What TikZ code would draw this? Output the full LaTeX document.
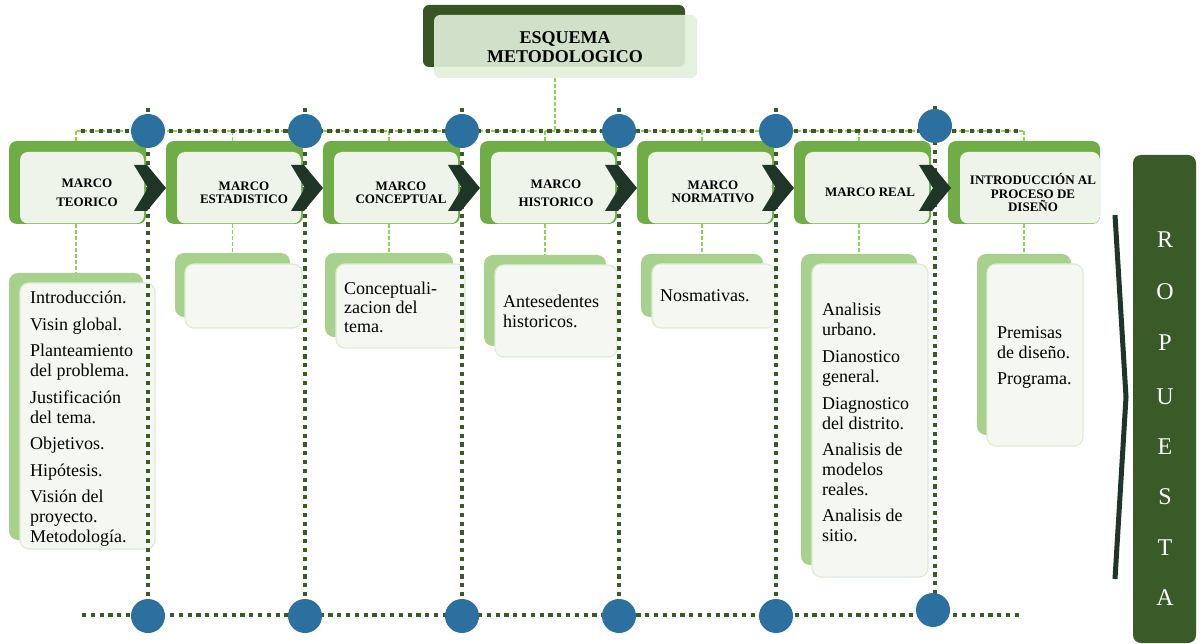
\documentclass[tikz,border=0pt]{standalone}
\usepackage{fontspec}
\setmainfont{Liberation Serif}
\definecolor{dkgreen}{HTML}{375623}
\definecolor{propgreen}{HTML}{3A5A27}
\definecolor{midgreen}{HTML}{70AD47}
\definecolor{hdrfill}{HTML}{EEF4EA}
\definecolor{lgreen}{HTML}{A9D18E}
\definecolor{frontfill}{HTML}{F5F8F2}
\definecolor{frontdraw}{HTML}{DCEDD2}
\definecolor{dashgreen}{HTML}{92D050}
\definecolor{chev}{HTML}{1F3527}
\definecolor{dotblue}{HTML}{2C70A0}
\definecolor{titlefront}{HTML}{E2EFDA}
\definecolor{dotgreen}{HTML}{3B5A27}
\tikzset{
  hout/.style={fill=midgreen, rounded corners=8pt, minimum width=137pt, minimum height=83pt, inner sep=0pt},
  hin/.style={fill=hdrfill, rounded corners=8pt, minimum width=124pt, minimum height=71.5pt, inner sep=0pt},
  htext/.style={align=center, inner sep=0pt, font=\bfseries\fontsize{13}{13}\selectfont},
  cback/.style={fill=lgreen, rounded corners=9pt, inner sep=0pt},
  cfront/.style={fill=frontfill, draw=frontdraw, line width=1.2pt, rounded corners=9pt, inner sep=0pt},
  ctext/.style={align=left, anchor=north west, inner sep=0pt, font=\fontsize{18}{20}\selectfont},
  lgdash/.style={draw=dashgreen, line width=1.3pt, dash pattern=on 4pt off 2pt},
  dotline/.style={draw=dotgreen, line width=4.2pt, dash pattern=on 4.2pt off 4.6pt},
  bluedot/.style={circle, fill=dotblue, minimum size=34pt, inner sep=0pt},
  chevron/.style={fill=chev},
}
\begin{document}
\begin{tikzpicture}[x=1pt,y=-1pt]
\useasboundingbox (0,0) rectangle (1200,644);
% title
\node[fill=dkgreen, rounded corners=6pt, minimum width=262pt, minimum height=62pt, inner sep=0pt] (tback) at (554,36) {};
\node[fill=titlefront, fill opacity=0.9, rounded corners=6pt, minimum width=263pt, minimum height=63pt, inner sep=0pt] (title) at (565.5,46.5) {};
\node[align=center, inner sep=0pt, font=\bfseries\fontsize{18}{19.5}\selectfont] (ttext) at (565,47) {ESQUEMA\\METODOLOGICO};
% bus coordinates
\coordinate (busL) at (77,131);
\coordinate (busR) at (1024,131);
\coordinate (dotL) at (81,131);
\coordinate (dotR) at (1019,131);
\coordinate (botL) at (82,615);
\coordinate (botR) at (1020,615);
% headers
\foreach \i in {0,...,5} {
  \pgfmathsetmacro\cx{77.5+157*\i}
  \pgfmathsetmacro\ix{82+157*\i}
  \node[hout] (ho\i) at (\cx,182.5) {};
  \node[hin] (hi\i) at (\ix,187.75) {};
}
\node[hout, minimum width=152pt] (ho6) at (1024,182.5) {};
\node[hin, minimum width=140pt] (hi6) at (1030,187.75) {};
\node[htext, font=\bfseries\fontsize{13}{19}\selectfont] (ht0) at (87,192.5) {MARCO\\TEORICO};
\node[htext] (ht1) at (244,192.5) {MARCO\\ESTADISTICO};
\node[htext] (ht2) at (401,192.5) {MARCO\\CONCEPTUAL};
\node[htext, font=\bfseries\fontsize{13}{18}\selectfont] (ht3) at (556,193) {MARCO\\HISTORICO};
\node[htext, font=\bfseries\fontsize{13}{12.5}\selectfont] (ht4) at (713,192) {MARCO\\NORMATIVO};
\node[htext] (ht5) at (870,192.5) {MARCO REAL};
\node[htext, font=\bfseries\fontsize{13}{13.5}\selectfont] (ht6) at (1033,192.5) {INTRODUCCIÓN AL\\PROCESO DE\\DISEÑO};
% content boxes
\node[cback, minimum width=134pt, minimum height=267pt] (cb0) at (76,406.5) {};
\node[cfront, minimum width=135pt, minimum height=266pt] (cf0) at (87.5,416) {};
\node[cback, minimum width=115pt, minimum height=64pt] (cb1) at (232.5,285) {};
\node[cfront, minimum width=117pt, minimum height=64pt] (cf1) at (243.5,296) {};
\node[cback, minimum width=128pt, minimum height=84pt] (cb2) at (389,295) {};
\node[cfront, minimum width=129pt, minimum height=84pt] (cf2) at (400.5,306) {};
\node[cback, minimum width=122pt, minimum height=91pt] (cb3) at (545,300.5) {};
\node[cfront, minimum width=122pt, minimum height=92pt] (cf3) at (556,311) {};
\node[cback, minimum width=122pt, minimum height=63pt] (cb4) at (702,285.5) {};
\node[cfront, minimum width=123pt, minimum height=64pt] (cf4) at (713.5,296) {};
\node[cback, minimum width=116pt, minimum height=311pt] (cb5) at (859,409.5) {};
\node[cfront, minimum width=116pt, minimum height=313pt] (cf5) at (870,420.5) {};
\node[cback, minimum width=94pt, minimum height=181pt] (cb6) at (1024,344.5) {};
\node[cfront, minimum width=96pt, minimum height=182pt] (cf6) at (1035,355) {};
% content texts
\node[ctext] (tx0) at (30,291) {Introducción.\\[6.5pt]Visin global.\\[6.5pt]Planteamiento\\del problema.\\[6.5pt]Justificación\\del tema.\\[6.5pt]Objetivos.\\[6.5pt]Hipótesis.\\[6.5pt]Visión del\\proyecto.\\Metodología.};
\node[ctext, font=\fontsize{18}{19}\selectfont] (tx2) at (344,282) {Conceptuali-\\zacion del\\tema.};
\node[ctext] (tx3) at (503,295) {Antesedentes\\historicos.};
\node[ctext] (tx4) at (660,289) {Nosmativas.};
\node[ctext] (tx5) at (822,303) {Analisis\\urbano.\\[7pt]Dianostico\\general.\\[7pt]Diagnostico\\del distrito.\\[6pt]Analisis de\\modelos\\reales.\\[6pt]Analisis de\\sitio.};
\node[ctext] (tx6) at (997,326) {Premisas\\de diseño.\\[6pt]Programa.};
% light green connectors
\draw[lgdash] (busL) -- (busR);
\draw[lgdash] (title.south -| 555,0) -- (busL -| 555,0);
\foreach \i in {0,...,6} {
  \draw[lgdash] (cb\i.north |- busL) -- (cb\i.north |- ho\i.north);
  \draw[lgdash] (cb\i.north |- ho\i.south) -- (cb\i.north);
}
% dotted lines
\draw[dotline] (dotL) -- (dotR);
\draw[dotline] (botL) -- (botR);
\foreach \i/\x in {0/148,1/305,2/462,3/619,4/776} {
  \coordinate (vt\i) at (\x,108);
  \coordinate (vb\i) at (\x,616);
  \draw[dotline] (vt\i) -- (vb\i);
}
\coordinate (vt5) at (935,106);
\coordinate (vb5) at (935,610);
\draw[dotline] (vt5) -- (vb5);
% chevrons
\foreach \i in {0,...,5} {
  \pgfmathsetmacro\ox{157*\i}
  \fill[chevron, xshift=\ox pt] (134,165) -- (147,165) -- (166,188) -- (147,211) -- (134,211) -- (148,188) -- cycle;
}
% blue dots
\foreach \i/\x in {0/148,1/305,2/462,3/619,4/776} {
  \node[bluedot] (top\i) at (\x,131) {};
  \node[bluedot] (bot\i) at (\x,616) {};
}
\node[bluedot] (top5) at (935,126) {};
\node[bluedot] (bot5) at (933,610) {};
% propuesta
\node[fill=propgreen, rounded corners=8pt, minimum width=63pt, minimum height=488pt, inner sep=0pt] (prop) at (1164.5,399) {};
\foreach \l/\y in {R/240,O/292,P/343,U/397,E/447,S/497,T/548,A/598} {
  \node[text=white, inner sep=0pt, font=\fontsize{24}{24}\selectfont] (p\l\y) at (1165,\y) {\l};
}
\coordinate (brT) at (1115,215);
\coordinate (brM) at (1126,397);
\coordinate (brB) at (1115,579);
\draw[chev, line width=5pt] (brT) -- (brM) -- (brB);
\end{tikzpicture}
\end{document}
